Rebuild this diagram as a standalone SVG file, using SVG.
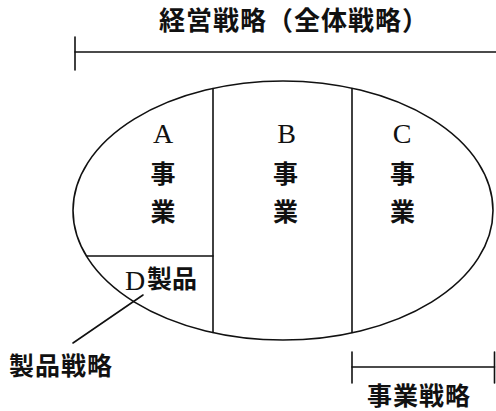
<svg xmlns="http://www.w3.org/2000/svg" width="496" height="411" viewBox="0 0 496 411">
<style>
.ln{stroke:#111;stroke-width:1.6;fill:none;stroke-linecap:round}
.jp{font-family:"Noto Sans CJK JP","Noto Sans CJK SC",sans-serif;font-weight:bold;fill:#111}
.lt{font-family:"Liberation Serif",serif;fill:#111;font-size:28px}
.col{font-size:25px;text-anchor:middle}
</style>
<rect width="496" height="411" fill="#fff"/>
<g id="overall-strategy">
<text class="jp" x="159" y="30" font-size="26" letter-spacing="1">経営戦略（全体戦略）</text>
<line class="ln" x1="75" y1="37" x2="75" y2="70"/>
<line class="ln" x1="75" y1="52" x2="496" y2="52"/>
</g>
<g id="company">
<ellipse class="ln" cx="283" cy="210.5" rx="210" ry="129.5"/>
<line class="ln" x1="213" y1="88.5" x2="213" y2="332.5"/>
<line class="ln" x1="352" y1="88.5" x2="352" y2="332.5"/>
</g>
<g id="business-a">
<text class="lt" x="163" y="143" text-anchor="middle">A</text>
<text class="jp col" x="163" y="183">事</text>
<text class="jp col" x="163" y="221">業</text>
</g>
<g id="business-b">
<text class="lt" x="286.5" y="143" text-anchor="middle">B</text>
<text class="jp col" x="285.5" y="183">事</text>
<text class="jp col" x="285.5" y="221">業</text>
</g>
<g id="business-c">
<text class="lt" x="402" y="143" text-anchor="middle">C</text>
<text class="jp col" x="402.5" y="183">事</text>
<text class="jp col" x="402.5" y="221">業</text>
</g>
<g id="product-d">
<line class="ln" x1="86.5" y1="256" x2="213" y2="256"/>
<text class="lt" x="125" y="290">D</text>
<text class="jp" x="147" y="288" font-size="25">製品</text>
</g>
<g id="product-strategy">
<text class="jp" x="9" y="375" font-size="25" letter-spacing="1">製品戦略</text>
</g>
<g id="business-strategy">
<line class="ln" x1="352" y1="352" x2="352" y2="383"/>
<line class="ln" x1="494.5" y1="352" x2="494.5" y2="383"/>
<line class="ln" x1="352" y1="367" x2="494.5" y2="367"/>
<text class="jp" x="367" y="405" font-size="25" letter-spacing="1">事業戦略</text>
</g>
<g id="connectors">
<line class="ln" x1="73" y1="343" x2="143" y2="295"/>
</g>
</svg>
